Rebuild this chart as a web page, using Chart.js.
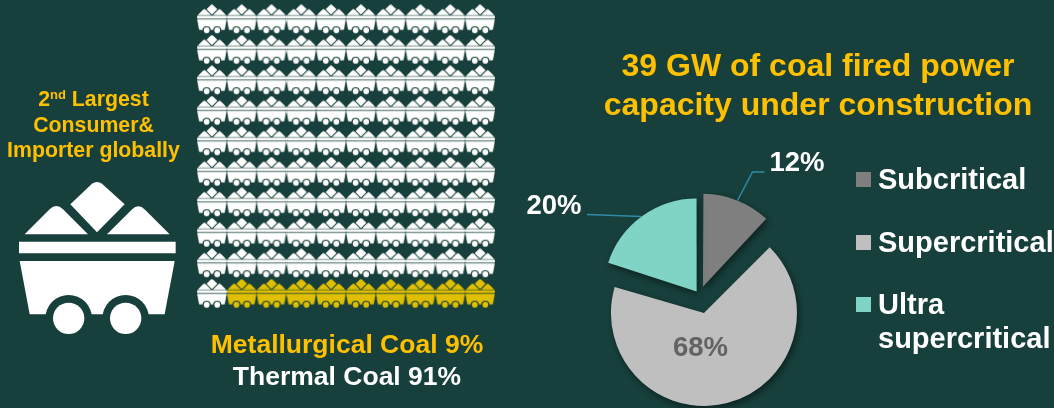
<!DOCTYPE html>
<html>
<head>
<meta charset="utf-8">
<script src="https://cdn.jsdelivr.net/npm/chart.js@4"></script>
<style>
html, body { margin: 0; padding: 0; background: #173f3b; }
body { position: relative; width: 1054px; height: 408px; overflow: hidden; font-family: "Liberation Sans", Arial, sans-serif; font-weight: bold; }
canvas { position: absolute; display: block; }
.txt { position: absolute; text-align: center; white-space: nowrap; }
.gold { color: #ffc000; }
.white { color: #fff; }
#note { left: 0; top: 87px; width: 187px; font-size: 21.3px; line-height: 25.5px; }
#note sup { font-size: 13px; line-height: 0; vertical-align: 7px; }
#title { left: 590px; top: 46px; width: 456px; font-size: 32px; line-height: 39px; }
#met { left: 197px; top: 330px; width: 300px; font-size: 26.5px; line-height: 28px; }
#thermal { left: 197px; top: 362px; width: 300px; font-size: 26.5px; line-height: 28px; }
.swatch { position: absolute; left: 856px; width: 15px; height: 15px; }
.legend { position: absolute; left: 878px; font-size: 29px; line-height: 34px; color: #fff; white-space: nowrap; }
</style>
</head>
<body>
<canvas id="bigCart" width="190" height="170" style="left:0;top:170px"></canvas>
<canvas id="waffle" width="298" height="305" style="left:197px;top:4px"></canvas>
<canvas id="pie" width="1054" height="408" style="left:0;top:0"></canvas>

<div class="txt gold" id="note">2<sup>nd</sup> Largest<br>Consumer&amp;<br>Importer globally</div>
<div class="txt gold" id="title">39 GW of coal fired power<br>capacity under construction</div>
<div class="txt gold" id="met"></div>
<div class="txt white" id="thermal"></div>
<div id="legendBox"></div>

<script>
// coal mix, one cart per percent
const coalTypes = ['Thermal Coal', 'Metallurgical Coal'];
const coalShares = [91, 9];

// capacity under construction
const categories = ['Subcritical', 'Supercritical', 'Ultra supercritical'];
const capacityShares = [12, 68, 20];

const cartWhite = '#ffffff';
const cartYellow = '#dfbf00';
const sliceColors = ['#7f7f7f', '#bfbfbf', '#80d4c5'];
const leaderColor = '#2f8aa8';

const GRID_COLS = 10;
const GRID_ROWS = 10;
const PIE_RADIUS = 93;
const sliceOffsets = [37.2, 72, 19.6];

// cart shape, traced at 3x in a 470 wide box
// fat thickens the parts so the small carts close up like the original
function drawCart(ctx, scale, ox, oy, color, fat, archR) {
    ctx.save();
    ctx.translate(ox, oy);
    ctx.scale(scale, scale);
    ctx.translate(-58, -35);
    ctx.fillStyle = color;
    ctx.strokeStyle = color;
    ctx.lineJoin = 'round';
    ctx.lineWidth = fat;

    const paint = () => {
        ctx.fill();
        if (fat > 0) ctx.stroke();
    };

    // diamond
    ctx.beginPath();
    ctx.moveTo(292, 187);
    ctx.lineTo(212, 103);
    ctx.lineTo(277, 41);
    ctx.quadraticCurveTo(292, 31, 307, 41);
    ctx.lineTo(375, 103);
    ctx.closePath();
    paint();

    // two piles
    [[75, 170, 265, 98], [322, 416, 510, 99]].forEach(([l, m, r, peak]) => {
        ctx.beginPath();
        ctx.moveTo(l, 193);
        ctx.lineTo(m - 20, peak + 20);
        ctx.quadraticCurveTo(m, peak, m + 20, peak + 20);
        ctx.lineTo(r, 193);
        ctx.closePath();
        paint();
    });

    // rim
    ctx.beginPath();
    ctx.rect(58, 215, 470, 35);
    paint();

    // body
    ctx.beginPath();
    ctx.moveTo(60, 273);
    ctx.lineTo(525, 273);
    ctx.lineTo(495, 433);
    ctx.lineTo(90, 433);
    ctx.closePath();
    paint();

    // wheel arches cut out, then the wheels
    ctx.globalCompositeOperation = 'destination-out';
    [207, 378].forEach((x) => {
        ctx.beginPath();
        ctx.arc(x, 445, archR, 0, Math.PI * 2);
        ctx.fill();
    });
    ctx.globalCompositeOperation = 'source-over';
    [207, 378].forEach((x) => {
        ctx.beginPath();
        ctx.arc(x, 445, 47, 0, Math.PI * 2);
        ctx.fill();
    });
    ctx.restore();
}

function cartIcon(color) {
    const c = document.createElement('canvas');
    c.width = 30;
    c.height = 30;
    drawCart(c.getContext('2d'), 29 / 470, 0.5, 0.7, color, 12, 66);
    return c;
}

drawCart(document.getElementById('bigCart').getContext('2d'), 1 / 3, 19, 11.7, cartWhite, 0, 70);

// waffle: fill left to right, thermal first
const cells = [];
for (let row = 0; row < GRID_ROWS; row++) {
    for (let col = 0; col < GRID_COLS; col++) {
        cells.push({ x: col, y: row });
    }
}

new Chart(document.getElementById('waffle').getContext('2d'), {
    type: 'scatter',
    data: {
        datasets: [
            { label: coalTypes[0], data: cells.slice(0, coalShares[0]), pointStyle: cartIcon(cartWhite), clip: false },
            { label: coalTypes[1], data: cells.slice(coalShares[0]), pointStyle: cartIcon(cartYellow), clip: false },
        ],
    },
    options: {
        responsive: false,
        animation: false,
        events: [],
        layout: { padding: 0, autoPadding: false },
        scales: {
            x: { type: 'linear', display: false, min: -0.5, max: GRID_COLS - 0.5 },
            y: { type: 'linear', display: false, min: -0.5, max: GRID_ROWS - 0.5, reverse: true },
        },
        plugins: { legend: { display: false }, tooltip: { enabled: false } },
    },
});

document.getElementById('met').textContent = coalTypes[1] + ' ' + coalShares[1] + '%';
document.getElementById('thermal').textContent = coalTypes[0] + ' ' + coalShares[0] + '%';

// leaders and percent labels, dx/dy from the pie centre
const pieNotes = [
    { line: [[38, -95], [53, -123.5], [65, -123.5]], text: [70, -132], align: 'left', color: '#fff' },
    { line: null, text: [1, 53], align: 'center', color: '#636363' },
    { line: [[-58, -79], [-112.5, -81]], text: [-118, -89], align: 'right', color: '#fff' },
];

const pieAnnotations = {
    id: 'pieAnnotations',
    beforeDatasetsDraw(chart) {
        // the arc grows by part of its offset when drawn, take that back so all slices share one radius
        chart.getDatasetMeta(0).data.forEach((arc, i) => {
            const shift = sliceOffsets[i] / 4;
            const fix = 1 - Math.sin(Math.min(Math.PI, arc.circumference));
            arc.outerRadius = PIE_RADIUS - shift * fix;
        });
        const ctx = chart.ctx;
        ctx.save();
        ctx.shadowColor = 'rgba(0, 0, 0, 0.45)';
        ctx.shadowBlur = 6;
        ctx.shadowOffsetX = 2;
        ctx.shadowOffsetY = 3;
    },
    afterDatasetsDraw(chart) {
        const ctx = chart.ctx;
        ctx.restore();
        const cx = (chart.chartArea.left + chart.chartArea.right) / 2;
        const cy = (chart.chartArea.top + chart.chartArea.bottom) / 2;
        pieNotes.forEach((note, i) => {
            if (note.line) {
                ctx.beginPath();
                note.line.forEach(([dx, dy], j) => {
                    if (j === 0) ctx.moveTo(cx + dx, cy + dy);
                    else ctx.lineTo(cx + dx, cy + dy);
                });
                ctx.strokeStyle = leaderColor;
                ctx.lineWidth = 1.5;
                ctx.stroke();
            }
            ctx.font = 'bold 27.5px "Liberation Sans", Arial, sans-serif';
            ctx.fillStyle = note.color;
            ctx.textAlign = note.align;
            ctx.textBaseline = 'middle';
            ctx.fillText(capacityShares[i] + '%', cx + note.text[0], cy + note.text[1]);
        });
    },
};

new Chart(document.getElementById('pie').getContext('2d'), {
    type: 'pie',
    data: {
        labels: categories,
        datasets: [{
            data: capacityShares,
            backgroundColor: sliceColors,
            borderWidth: 0,
            offset: sliceOffsets,
            hoverOffset: 0,
        }],
    },
    options: {
        responsive: false,
        animation: false,
        events: [],
        radius: PIE_RADIUS,
        layout: { padding: { left: 345, top: 183 } },
        plugins: { legend: { display: false }, tooltip: { enabled: false } },
    },
    plugins: [pieAnnotations],
});

// legend beside the pie, last name breaks onto two lines
const legendBox = document.getElementById('legendBox');
const swatchTops = [172, 235, 297];
const textTops = [162, 224.5, 287];
categories.forEach((name, i) => {
    const s = document.createElement('div');
    s.className = 'swatch';
    s.style.top = swatchTops[i] + 'px';
    s.style.background = sliceColors[i];
    legendBox.appendChild(s);
    const t = document.createElement('div');
    t.className = 'legend';
    t.style.top = textTops[i] + 'px';
    t.innerHTML = name.replace('Ultra ', 'Ultra<br>');
    legendBox.appendChild(t);
});
</script>
</body>
</html>
